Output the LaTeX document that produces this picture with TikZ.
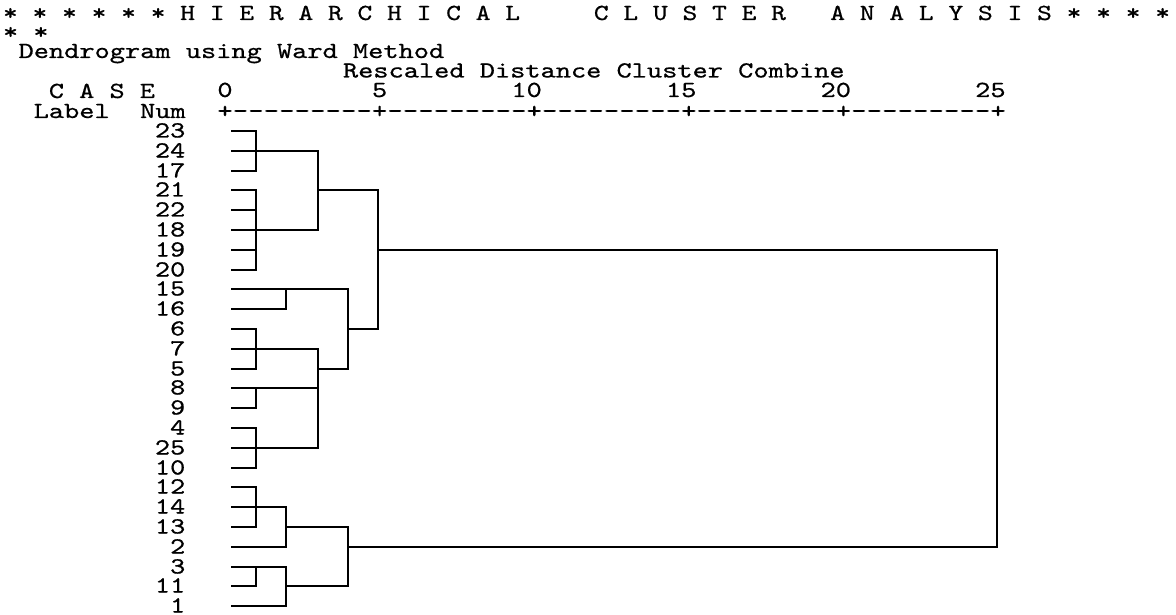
\documentclass[tikz,border=0pt]{standalone}
\usepackage{graphicx}
\usepackage{fontspec}
\newfontfamily\cour{lmmono10-regular.otf}[FakeBold=0.6]
\newcommand\fit[2]{\resizebox{#1}{\height}{\fontsize{23}{23}\selectfont\cour #2}}
\newcommand\lbl[1]{\ifnum#1>9 \fit{30.4pt}{#1}\else\fit{15.2pt}{#1}\fi}
\newcommand\dsh{\mbox{-}}
\newcommand\dashes{\dsh\dsh\dsh\dsh\dsh\dsh\dsh\dsh\dsh}
\newcommand\hl[3]{\draw[dl] (#2 |- r#1) -- (#3 |- r#1);}
\newcommand\vl[3]{\draw[dl] (#1 |- r#2) -- (#1 |- r#3);}
\begin{document}
\begin{tikzpicture}[x=1pt,y=-1pt,
  txt/.style={inner sep=0pt, outer sep=0pt, anchor=base west},
  num/.style={inner sep=0pt, outer sep=0pt, anchor=base east},
  dl/.style={line width=2pt, line cap=rect}]
\fill[white] (0,0) rectangle (1176,615);
\useasboundingbox (0,0) rectangle (1176,615);
% header text
\node[txt] (title) at (3,20) {\fit{1167pt}{*~*~*~*~*~*~H~I~E~R~A~R~C~H~I~C~A~L~~~~~C~L~U~S~T~E~R~~~A~N~A~L~Y~S~I~S~*~*~*~*}};
\node[txt] (stars) at (3,39) {\fit{45.5pt}{*~*}};
\node[txt] (method) at (18.6,58) {\fit{425.6pt}{Dendrogram using Ward Method}};
\node[txt] (rescaled) at (343,77.5) {\fit{501.6pt}{Rescaled Distance Cluster Combine}};
\node[txt] (case) at (48.9,98) {\fit{106.1pt}{C~A~S~E}};
\node[num] (n0) at (232.6,97) {\fit{15.2pt}{0}};
\node[num] (n5) at (387.2,97) {\fit{15.2pt}{5}};
\node[num] (n10) at (541.8,97) {\fit{30.4pt}{10}};
\node[num] (n15) at (696.4,97) {\fit{30.4pt}{15}};
\node[num] (n20) at (851,97) {\fit{30.4pt}{20}};
\node[num] (n25) at (1005.6,97) {\fit{30.4pt}{25}};
\node[txt] (labnum) at (33.7,118) {\fit{152pt}{Label~~Num}};
\node[txt] (axis) at (217.3,118) {\fit{788.5pt}{+\dashes+\dashes+\dashes+\dashes+\dashes+}};
% rows
\foreach \i in {0,...,24} \coordinate (r\i) at (0,{round(131+19.8*\i)});
\foreach \lab [count=\i from 0] in {23,24,17,21,22,18,19,20,15,16,6,7,5,8,9,4,25,10,12,14,13,2,3,11,1}
  \node[num] (c\lab) at (185.3,{round(131+19.8*\i)+6.5}) {\lbl{\lab}};
% merge levels
\coordinate (x0) at (232,0);
\coordinate (xa) at (256,0);
\coordinate (xb) at (286,0);
\coordinate (xc) at (318,0);
\coordinate (xd) at (348,0);
\coordinate (xe) at (378,0);
\coordinate (xf) at (997,0);
% leaves
\foreach \i in {0,...,7} {\hl{\i}{x0}{xa}}
\foreach \i in {10,...,20} {\hl{\i}{x0}{xa}}
\foreach \i in {22,23} {\hl{\i}{x0}{xa}}
\foreach \i in {8,9,21,24} {\hl{\i}{x0}{xb}}
% merges
\vl{xa}{0}{2} \vl{xa}{3}{7} \vl{xa}{10}{12} \vl{xa}{13}{14}
\vl{xa}{15}{17} \vl{xa}{18}{20} \vl{xa}{22}{23}
\hl{1}{xa}{xc} \hl{5}{xa}{xc} \hl{11}{xa}{xc} \hl{13}{xa}{xc}
\hl{16}{xa}{xc} \hl{19}{xa}{xb} \hl{22}{xa}{xb}
\vl{xb}{8}{9} \vl{xb}{19}{21} \vl{xb}{22}{24}
\hl{8}{xb}{xd} \hl{20}{xb}{xd} \hl{23}{xb}{xd}
\vl{xc}{1}{5} \vl{xc}{11}{16}
\hl{3}{xc}{xe} \hl{12}{xc}{xd}
\vl{xd}{8}{12} \vl{xd}{20}{23}
\hl{10}{xd}{xe} \hl{21}{xd}{xf}
\vl{xe}{3}{10}
\hl{6}{xe}{xf}
\vl{xf}{6}{21}
\end{tikzpicture}
\end{document}
